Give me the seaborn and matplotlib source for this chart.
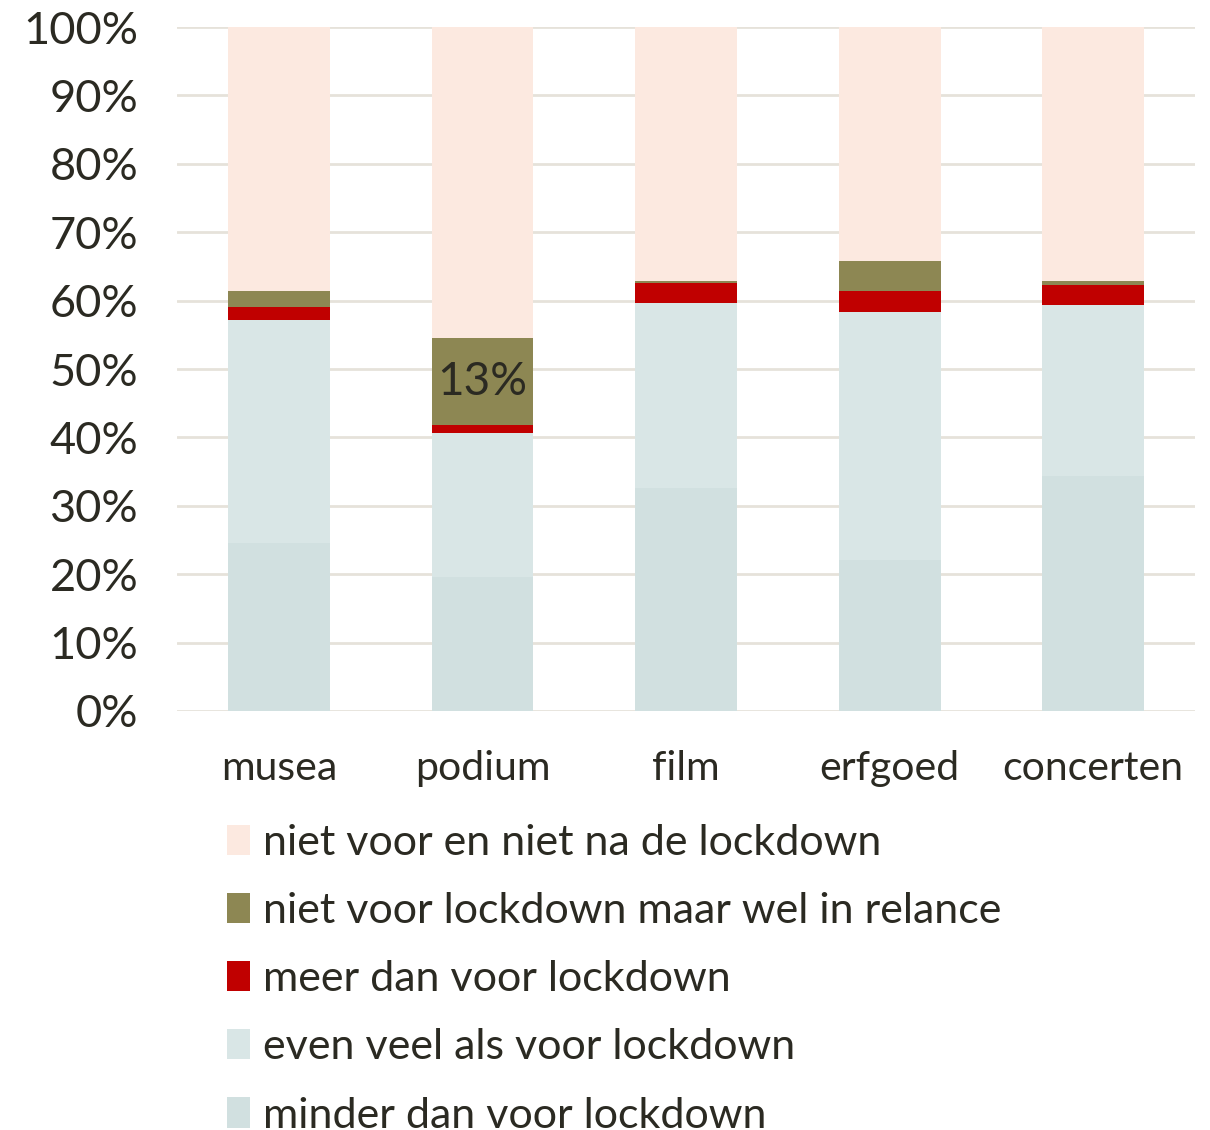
import numpy as np
import pandas as pd
import matplotlib
matplotlib.use("Agg")
import matplotlib.pyplot as plt
import seaborn as sns
from matplotlib.patches import Patch

categories = ["musea", "podium", "film", "erfgoed", "concerten"]

# share per answer, bottom to top of each bar (%)
minder = [24.6, 19.6, 32.6, 22.1, 34.3]
even_veel = [32.5, 21.1, 27.0, 36.3, 25.1]
meer = [1.9, 1.1, 3.0, 3.0, 2.9]
niet_voor_wel_relance = [2.4, 12.7, 0.3, 4.4, 0.6]
niet_voor_niet_na = [38.6, 45.5, 37.1, 34.2, 37.1]

series_labels = [
    "minder dan voor lockdown",
    "even veel als voor lockdown",
    "meer dan voor lockdown",
    "niet voor lockdown maar wel in relance",
    "niet voor en niet na de lockdown",
]
series_colors = ["#D1E0E0", "#D9E6E6", "#C00000", "#8D8753", "#FCE9E0"]

TEXT = "#2B2A22"

sns.set_theme(style="white")
plt.rcParams["font.family"] = ["Lato", "DejaVu Sans"]

df = pd.DataFrame(
    {
        "categorie": categories,
        series_labels[0]: minder,
        series_labels[1]: even_veel,
        series_labels[2]: meer,
        series_labels[3]: niet_voor_wel_relance,
        series_labels[4]: niet_voor_niet_na,
    }
)
cum = df[series_labels].cumsum(axis=1)

fig = plt.figure(figsize=(12.1, 11.3), dpi=100)
ax = fig.add_axes([0.1463, 0.3708, 0.8413, 0.6053])

# stacked bars: draw cumulative totals from the top layer down
for label, color in reversed(list(zip(series_labels, series_colors))):
    sns.barplot(x=df["categorie"], y=cum[label], color=color, width=0.5,
                saturation=1, linewidth=0, ax=ax, zorder=2)

ax.set_ylim(0, 100)
ax.set_xlim(-0.5, 4.5)
ax.set_yticks(np.arange(0, 101, 10))
ax.set_yticklabels([f"{v}%" for v in range(0, 101, 10)])
ax.yaxis.grid(True, color="#E6E2DA", linewidth=2, zorder=0)
ax.set_axisbelow(True)
for s in ax.spines.values():
    s.set_visible(False)
ax.set_xlabel("")
ax.set_ylabel("")
ax.tick_params(axis="y", labelsize=32.5, colors=TEXT, length=0, pad=28)
ax.tick_params(axis="x", labelsize=29.5, colors=TEXT, length=0, pad=28)

# value label in the podium relance segment
pi = categories.index("podium")
ax.text(pi, minder[pi] + even_veel[pi] + meer[pi] + niet_voor_wel_relance[pi] / 2,
        f"{niet_voor_wel_relance[pi]:.0f}%", ha="center", va="center",
        fontsize=33, color=TEXT, zorder=5)

handles = [Patch(facecolor=c, edgecolor="none", label=l)
           for l, c in zip(series_labels, series_colors)][::-1]
leg = fig.legend(handles=handles, loc="upper left", bbox_to_anchor=(0.1736, 0.286),
                 frameon=False, fontsize=31, handlelength=0.52, handleheight=0.7,
                 handletextpad=0.3, labelspacing=0.7, borderaxespad=0)
for t in leg.get_texts():
    t.set_color(TEXT)

fig.savefig("out.png", dpi=100)
